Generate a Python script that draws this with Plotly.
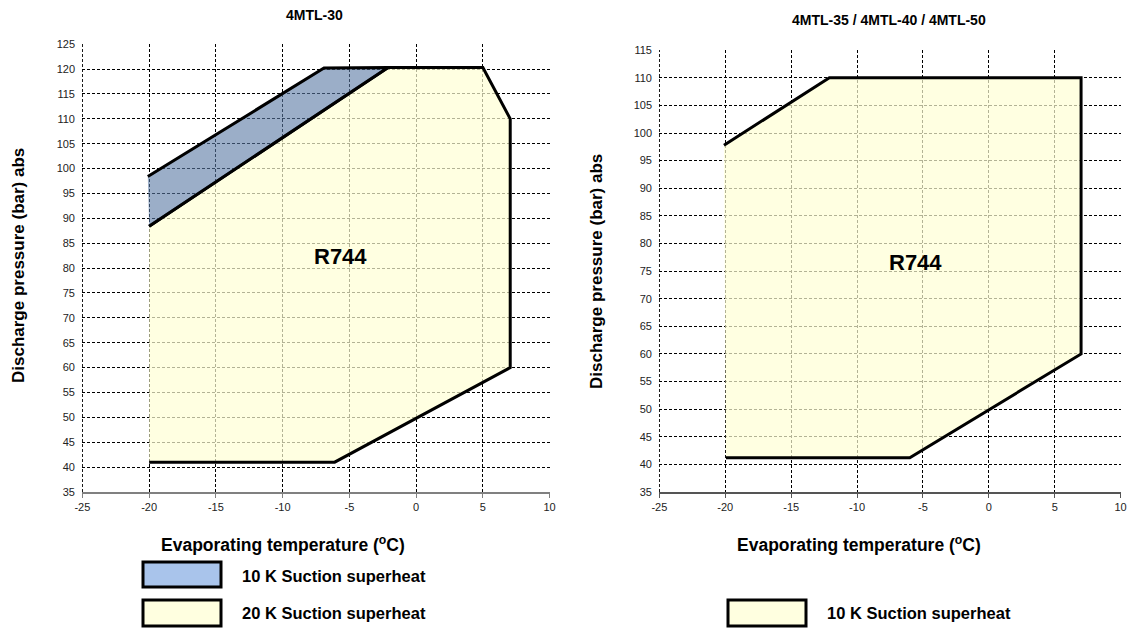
import plotly.graph_objects as go

# ---------------- data ----------------
# 4MTL-30 envelope
mtl30_20k_temp = [-20, -2.1, 5, 7.05, 7.05, -6.1, -20]
mtl30_20k_pres = [88.4, 120.3, 120.3, 110, 60, 41, 41]
mtl30_10k_temp = [-20.1, -6.9, -2.1, -20]
mtl30_10k_pres = [98.4, 120.2, 120.3, 88.4]

# 4MTL-35 / 40 / 50 envelope
mtl35_10k_temp = [-20.1, -12.1, 7, 7, -6, -19.95]
mtl35_10k_pres = [97.8, 110, 110, 60, 41.2, 41.2]

x_ticks = [-25, -20, -15, -10, -5, 0, 5, 10]
x_tick_labels = ["-25", "-20", "-15", "-10", "-5", "0", "5", "10"]
y_ticks_left = list(range(35, 126, 5))
y_ticks_right = list(range(35, 116, 5))

titles = ["4MTL-30", "4MTL-35 / 4MTL-40 / 4MTL-50"]
x_title = "Evaporating temperature (<sup>o</sup>C)"
y_title = "Discharge pressure (bar) abs"
refrigerant = "R744"
legend_left = ["10 K Suction superheat", "20 K Suction superheat"]
legend_right = ["10 K Suction superheat"]

# ---------------- style ----------------
W, H = 1134, 630
FONT = "Liberation Sans, Arial, sans-serif"
YELLOW_FILL = "rgba(255,255,212,0.7)"
BLUE_FILL = "rgba(88,120,163,0.6)"
YELLOW_SWATCH = "#FFFFE0"
BLUE_SWATCH = "#A9C4EB"
EPS = 0.03
GRID_DASH = "3px,2px"


def px(x):
    return x / W


def py(y):
    return 1 - y / H


fig = go.Figure()

fig.add_trace(go.Scatter(x=mtl30_20k_temp, y=mtl30_20k_pres, fill="toself",
                         fillcolor=YELLOW_FILL, mode="lines",
                         line=dict(color="black", width=3), xaxis="x", yaxis="y",
                         hoverinfo="skip", showlegend=False))
fig.add_trace(go.Scatter(x=mtl30_10k_temp, y=mtl30_10k_pres, fill="toself",
                         fillcolor=BLUE_FILL, mode="lines",
                         line=dict(color="black", width=3), xaxis="x", yaxis="y",
                         hoverinfo="skip", showlegend=False))
fig.add_trace(go.Scatter(x=mtl35_10k_temp, y=mtl35_10k_pres, fill="toself",
                         fillcolor=YELLOW_FILL, mode="lines",
                         line=dict(color="black", width=3), xaxis="x2", yaxis="y2",
                         hoverinfo="skip", showlegend=False))

axis_common = dict(
    showgrid=True, gridcolor="black", gridwidth=1, griddash=GRID_DASH,
    zeroline=False, automargin=False,
    tickfont=dict(family=FONT, size=11, color="#222"),
)

fig.update_layout(
    width=W, height=H, autosize=False,
    margin=dict(l=0, r=0, t=0, b=0),
    paper_bgcolor="white", plot_bgcolor="white",
    showlegend=False,
    xaxis=dict(domain=[px(82), px(550)], range=[-25 - EPS, 10 + EPS],
               tickvals=x_ticks, ticktext=x_tick_labels,
               showline=True, linecolor="#808080", linewidth=2,
               ticks="outside", ticklen=4, tickcolor="#808080",
               anchor="y", **axis_common),
    yaxis=dict(domain=[py(492), py(44)], range=[35, 125 + EPS], tickvals=y_ticks_left,
               showline=False, ticks="", ticklabelstandoff=6,
               anchor="x", **axis_common),
    xaxis2=dict(domain=[px(659), px(1121)], range=[-25 - EPS, 10 + EPS],
                tickvals=x_ticks, ticktext=x_tick_labels,
                showline=True, linecolor="#555", linewidth=1.5,
                ticks="outside", ticklen=4, tickcolor="#555",
                anchor="y2", **axis_common),
    yaxis2=dict(domain=[py(492), py(50)], range=[35, 115 + EPS], tickvals=y_ticks_right,
                showline=False, ticks="", ticklabelstandoff=6,
                anchor="x2", **axis_common),
)

# dashed left border of each plot (the -25 gridline)
for xr, yr in (("x", "y domain"), ("x2", "y2 domain")):
    fig.add_shape(type="line", xref=xr, yref=yr, x0=-25, x1=-25, y0=0, y1=1,
                  line=dict(color="black", width=1, dash=GRID_DASH), layer="below")

ann = []
bold = lambda s: "<b>" + s + "</b>"
# titles
ann.append(dict(x=px(314), y=py(15), text=bold(titles[0]), font=dict(size=14)))
ann.append(dict(x=px(889), y=py(20), text=bold(titles[1]), font=dict(size=14)))
# axis titles
ann.append(dict(x=px(283), y=py(544), text=bold(x_title), font=dict(size=17.5)))
ann.append(dict(x=px(859), y=py(544), text=bold(x_title), font=dict(size=17.5)))
ann.append(dict(x=px(18), y=py(266), text=bold(y_title), textangle=-90, font=dict(size=17)))
ann.append(dict(x=px(596), y=py(272), text=bold(y_title), textangle=-90, font=dict(size=17)))
# refrigerant labels in data coordinates
ann.append(dict(x=-5.7, y=82.3, xref="x", yref="y", text=bold(refrigerant), font=dict(size=22)))
ann.append(dict(x=-5.6, y=76.6, xref="x2", yref="y2", text=bold(refrigerant), font=dict(size=22)))
# legend texts
ann.append(dict(x=px(240), y=py(576), text=bold(legend_left[0]), xanchor="left", font=dict(size=16.5)))
ann.append(dict(x=px(240), y=py(613), text=bold(legend_left[1]), xanchor="left", font=dict(size=16.5)))
ann.append(dict(x=px(825), y=py(613), text=bold(legend_right[0]), xanchor="left", font=dict(size=16.5)))

for a in ann:
    a.setdefault("xref", "paper")
    a.setdefault("yref", "paper")
    a["showarrow"] = False
    a["font"] = dict(family=FONT, color="black", **a["font"])
    a.setdefault("xanchor", "center")
    a["yanchor"] = "middle"
fig.update_layout(annotations=ann)

# legend swatches
swatches = [
    (143, 562, 221, 587, BLUE_SWATCH),
    (143, 600, 221, 626, YELLOW_SWATCH),
    (728, 600, 806, 626, YELLOW_SWATCH),
]
for x0, y0, x1, y1, c in swatches:
    fig.add_shape(type="rect", xref="paper", yref="paper",
                  x0=px(x0), x1=px(x1), y0=py(y1), y1=py(y0),
                  fillcolor=c, line=dict(color="black", width=3))

fig.write_html(
    "out.html",
    config={"displayModeBar": False},
    post_script="document.body.style.margin='0';document.body.style.overflow='hidden';",
)
